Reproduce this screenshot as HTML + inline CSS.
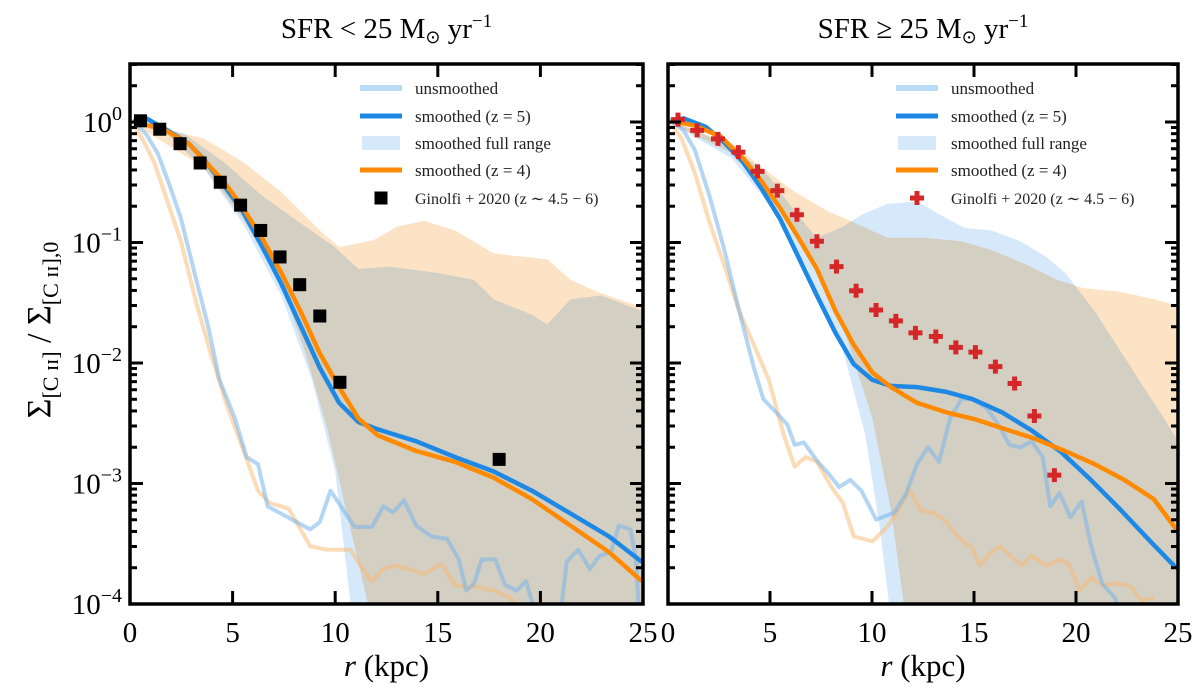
<!DOCTYPE html>
<html><head><meta charset="utf-8"><style>
body{margin:0;background:#fff;}
svg text{font-family:"Liberation Serif",serif;}
</style></head><body>
<svg id="chart" width="1200" height="691" xmlns="http://www.w3.org/2000/svg"></svg>
<script>
// ---- data (r in kpc, values stored as log10 of normalized surface density) ----
const xTicks=[0,5,10,15,20,25];
const yTicks=[0,-1,-2,-3,-4];
const legendLabels=["unsmoothed","smoothed (z = 5)","smoothed full range","smoothed (z = 4)","Ginolfi + 2020 (z ∼ 4.5 − 6)"];

// Left panel
const L_blueR=[0.23,0.79,1.73,2.86,3.61,4.55,5.49,6.43,7.37,8.31,9.25,10.19,11.13,12.07,13.95,15.83,17.71,19.59,21.47,23.35,24.94];
const L_blueV=[0.02,0.03,-0.06,-0.18,-0.31,-0.52,-0.74,-1.03,-1.34,-1.69,-2.04,-2.33,-2.49,-2.55,-2.65,-2.78,-2.90,-3.06,-3.25,-3.44,-3.65];
const L_orR=[0.13,1.73,2.86,4.55,5.49,6.43,7.37,8.31,9.25,10.19,11.13,12.07,13.95,15.83,17.71,19.59,21.47,23.35,24.94];
const L_orV=[0.01,-0.07,-0.18,-0.49,-0.71,-0.96,-1.25,-1.57,-1.92,-2.20,-2.46,-2.60,-2.73,-2.82,-2.95,-3.13,-3.35,-3.57,-3.81];
const L_obsR=[0.51,1.45,2.44,3.42,4.40,5.39,6.37,7.31,8.27,9.25,10.23,17.99];
const L_obsV=[0.01,-0.06,-0.18,-0.34,-0.50,-0.69,-0.90,-1.12,-1.35,-1.61,-2.16,-2.80];
const L_ubR=[0.13,0.79,1.35,1.92,2.48,3.23,3.80,4.36,5.11,5.68,6.24,6.71,7.37,8.12,8.78,9.25,9.77,10.28,10.94,11.79,12.35,12.82,13.35,13.95,14.70,15.45,16.02,16.39,16.77,17.14,17.80,18.27,18.83,19.30,19.96,20.90,21.28,21.84,22.41,22.88,23.44,23.82,24.38,24.66,24.85];
const L_ubV=[0.01,-0.10,-0.26,-0.52,-0.80,-1.31,-1.69,-2.14,-2.46,-2.78,-2.84,-3.19,-3.25,-3.32,-3.38,-3.32,-3.06,-3.19,-3.36,-3.36,-3.19,-3.24,-3.14,-3.35,-3.44,-3.46,-3.63,-3.89,-3.83,-3.63,-3.63,-3.84,-3.89,-3.81,-4.2,-4.2,-3.65,-3.55,-3.71,-3.60,-3.57,-3.35,-3.38,-3.63,-4.2];
const L_uoR=[0.13,0.60,1.17,1.73,2.48,3.23,3.98,4.74,5.49,6.24,6.80,7.74,8.31,8.78,9.62,10.75,11.22,11.79,12.35,12.91,13.57,14.32,15.17,15.83,16.39,16.95,17.71,18.46,18.74,19.21];
const L_uoV=[-0.01,-0.14,-0.33,-0.61,-0.99,-1.50,-1.95,-2.36,-2.71,-3.06,-3.16,-3.21,-3.38,-3.52,-3.55,-3.55,-3.68,-3.81,-3.71,-3.68,-3.71,-3.75,-3.67,-3.84,-3.86,-3.86,-3.89,-3.94,-4.0,-4.1];
const L_bandBlueUpR=[0.13,2.67,4.55,6.43,8.31,10.0,11.13,12.63,14.89,16.77,17.71,19.59,20.34,21.47,22.97,24.98];
const L_bandBlueUpV=[0.01,-0.10,-0.33,-0.61,-0.84,-1.04,-1.22,-1.20,-1.25,-1.31,-1.47,-1.60,-1.68,-1.47,-1.44,-1.57];
const L_bandBlueLoR=[0.13,1.73,3.61,5.49,7.37,8.87,10.0,10.75,11.0,25.0];
const L_bandBlueLoV=[-0.01,-0.09,-0.39,-0.84,-1.44,-2.14,-2.90,-4.0,-4.5,-4.5];
const L_bandOrUpR=[0.13,3.61,5.49,7.37,9.25,10.19,11.88,13.0,14.32,15.83,17.71,20.34,21.47,22.78,24.98];
const L_bandOrUpV=[0.01,-0.14,-0.33,-0.58,-0.90,-1.04,-0.98,-0.87,-0.82,-0.90,-1.09,-1.14,-1.31,-1.41,-1.54];
const L_bandOrLoR=[0.13,3.61,5.49,7.37,8.50,9.62,10.75,11.60,11.9,25.0];
const L_bandOrLoV=[-0.01,-0.38,-0.80,-1.34,-1.89,-2.55,-3.38,-4.0,-4.5,-4.5];

// Right panel
const R_blueR=[0.13,0.76,1.85,2.76,3.67,4.58,5.48,6.39,7.30,8.21,9.11,10.02,10.93,12.20,13.65,14.92,16.38,17.83,19.28,20.73,22.19,23.64,24.91];
const R_blueV=[0.01,0.03,-0.04,-0.17,-0.33,-0.55,-0.80,-1.12,-1.44,-1.75,-2.01,-2.14,-2.19,-2.20,-2.24,-2.30,-2.41,-2.56,-2.74,-2.97,-3.22,-3.48,-3.70];
const R_orR=[0.13,1.31,2.58,3.67,4.58,5.48,6.39,7.30,8.21,9.11,10.02,10.93,12.20,13.65,15.11,16.56,18.01,19.46,20.92,22.37,23.82,24.91];
const R_orV=[0.01,-0.03,-0.12,-0.30,-0.49,-0.71,-0.96,-1.22,-1.57,-1.85,-2.08,-2.20,-2.33,-2.41,-2.47,-2.55,-2.63,-2.73,-2.84,-2.97,-3.13,-3.38];
const R_obsR=[0.49,1.43,2.45,3.45,4.39,5.36,6.32,7.30,8.26,9.22,10.20,11.17,12.13,13.13,14.11,15.07,16.05,16.99,17.96,18.94];
const R_obsV=[0.02,-0.07,-0.14,-0.25,-0.41,-0.57,-0.77,-0.99,-1.20,-1.40,-1.56,-1.65,-1.75,-1.78,-1.87,-1.91,-2.03,-2.17,-2.44,-2.93];
const R_ubR=[0.13,0.76,1.31,2.03,2.76,3.49,4.21,4.67,5.30,5.85,6.21,6.66,7.30,7.93,8.39,8.93,9.48,10.20,11.11,11.66,12.20,12.75,13.29,13.83,14.38,14.92,15.65,16.19,16.74,17.28,17.83,18.37,18.74,19.19,19.73,20.28,20.73,21.28,21.91,22.19];
const R_ubV=[0.01,-0.07,-0.23,-0.61,-1.06,-1.57,-2.04,-2.30,-2.41,-2.51,-2.68,-2.66,-2.81,-2.93,-3.03,-2.97,-3.06,-3.30,-3.24,-3.09,-2.84,-2.70,-2.82,-2.46,-2.30,-2.30,-2.38,-2.51,-2.68,-2.70,-2.65,-2.78,-3.19,-3.08,-3.28,-3.15,-3.51,-3.83,-3.95,-4.11];
const R_uoR=[0.13,0.67,1.31,2.03,2.76,3.49,4.21,4.94,5.66,6.21,6.75,7.30,8.02,8.57,9.11,10.02,10.75,11.29,11.84,12.38,13.11,13.65,14.20,14.92,15.29,15.83,16.29,16.92,17.37,17.83,18.55,19.28,19.64,20.19,20.73,21.28,22.19,22.73,23.18,23.82];
const R_uoV=[-0.01,-0.14,-0.42,-0.83,-1.19,-1.57,-1.85,-2.14,-2.59,-2.86,-2.78,-2.82,-3.03,-3.16,-3.44,-3.48,-3.36,-3.22,-3.05,-3.22,-3.25,-3.32,-3.44,-3.54,-3.68,-3.57,-3.52,-3.62,-3.68,-3.60,-3.68,-3.63,-3.67,-3.89,-3.78,-3.84,-3.83,-3.86,-3.97,-3.95];
const R_bandBlueUpR=[0.13,3.12,4.94,6.21,7.30,8.57,9.48,10.75,12.20,13.65,14.56,15.83,17.28,18.55,19.46,20.92,22.37,23.82,24.91];
const R_bandBlueUpV=[0.01,-0.20,-0.45,-0.74,-0.96,-0.87,-0.77,-0.68,-0.66,-0.80,-0.88,-0.90,-0.99,-1.12,-1.25,-1.57,-1.95,-2.33,-2.62];
const R_bandBlueLoR=[0.13,3.12,4.94,6.75,8.57,9.66,10.39,10.84,11.1,25.0];
const R_bandBlueLoV=[-0.01,-0.30,-0.68,-1.19,-1.89,-2.59,-3.38,-4.0,-4.5,-4.5];
const R_bandOrUpR=[0.13,3.12,4.94,6.21,7.84,8.93,10.75,12.56,14.38,15.83,17.65,19.10,20.37,22.19,23.82,24.91];
const R_bandOrUpV=[0.01,-0.18,-0.42,-0.58,-0.74,-0.82,-0.96,-0.96,-0.99,-1.06,-1.19,-1.31,-1.38,-1.41,-1.47,-1.52];
const R_bandOrLoR=[0.13,3.12,4.94,6.75,8.57,10.02,10.93,11.56,11.8,25.0];
const R_bandOrLoV=[-0.01,-0.26,-0.61,-1.06,-1.69,-2.46,-3.22,-4.0,-4.5,-4.5];

// ---- rendering ----
const NS="http://www.w3.org/2000/svg";
const svg=document.getElementById('chart');
function mk(tag,attrs,parent){const e=document.createElementNS(NS,tag);for(const k in attrs)e.setAttribute(k,attrs[k]);(parent||svg).appendChild(e);return e;}
const Y0=122, DEC=120.5, TOP=64, BOT=604;
const yMin=-4, yMax=(Y0-TOP)/DEC;
const BLUE="#1e88e5", ORANGE="#ff8a00";

function panel(id,left,right,title,data,markerType,showYLabels){
  const sx=r=>left+(right-left)*r/25;
  const sy=v=>BOT-(v-yMin)/(yMax-yMin)*(BOT-TOP);
  const g=mk('g',{});
  
  
  const cp=mk('clipPath',{id:id+'-clip'},g);
  mk('rect',{x:left,y:TOP,width:right-left,height:BOT-TOP},cp);
  const plot=mk('g',{'clip-path':'url(#'+id+'-clip)'},g);
  const pts=(R,V)=>R.map((r,i)=>sx(r).toFixed(1)+','+sy(V[i]).toFixed(1));
  function band(uR,uV,lR,lV,fill,name){
    const p=pts(uR,uV).concat(pts(lR,lV).reverse());
    const e=mk('polygon',{points:p.join(' '),fill:fill,stroke:'none',style:'mix-blend-mode:multiply'},plot);
    
    
  }
  band(data.bOR,data.bOV,data.bOLR,data.bOLV,'#fde3c6','orange-range-band');
  band(data.bBR,data.bBV,data.bBLR,data.bBLV,'#d6e9fb','blue-range-band');
  function line(R,V,color,w,op,name){
    const e=mk('polyline',{points:pts(R,V).join(' '),fill:'none',stroke:color,'stroke-width':w,'stroke-opacity':op,'stroke-linejoin':'round'},plot);
    
    
  }
  line(data.uoR,data.uoV,'#f9b870',4,0.5,'unsmoothed-z4-line');
  line(data.ubR,data.ubV,'#79b4e8',4,0.55,'unsmoothed-z5-line');
  line(data.bR,data.bV,BLUE,4.5,1,'smoothed-z5-line');
  line(data.oR,data.oV,ORANGE,4.5,1,'smoothed-z4-line');
  data.obsR.forEach((r,i)=>{
    const x=sx(r),y=sy(data.obsV[i]);let e;
    if(markerType==='square'){e=mk('rect',{x:x-6.5,y:y-6.5,width:13,height:13,fill:'#000'},plot);}
    else{e=mk('path',{d:`M${x-2.5},${y-7}h5v4.5h4.5v5h-4.5v4.5h-5v-4.5h-4.5v-5h4.5z`,fill:'#d62728'},plot);}
    
    
  });
  const fr=mk('rect',{x:left,y:TOP,width:right-left,height:BOT-TOP,fill:'none',stroke:'#000','stroke-width':3.5},g);
  
  
  xTicks.forEach(t=>{
    const x=sx(t);
    mk('line',{x1:x,x2:x,y1:BOT,y2:BOT-13,stroke:'#000','stroke-width':3},g);
    mk('line',{x1:x,x2:x,y1:TOP,y2:TOP+13,stroke:'#000','stroke-width':3},g);
    const tx=mk('text',{x:x,y:642,'text-anchor':'middle','font-size':29},g);
    tx.textContent=t;
    
    
  });
  for(let d=-4;d<=0;d++){
    for(let m=1;m<=9;m++){
      const v=d+Math.log10(m); if(v>yMax) continue;
      const y=sy(v), L=m===1?13:7;
      mk('line',{x1:left,x2:left+L,y1:y,y2:y,stroke:'#000','stroke-width':3},g);
      mk('line',{x1:right,x2:right-L,y1:y,y2:y,stroke:'#000','stroke-width':3},g);
    }
  }
  if(showYLabels){
    yTicks.forEach(t=>{
      const tx=mk('text',{x:left-8,y:sy(t)+10,'text-anchor':'end','font-size':29},g);
      tx.textContent='10';
      const s=mk('tspan',{dy:-12,'font-size':20},tx);s.textContent=(t===0?'0':'−'+(-t));
      
      
    });
  }
  const tt=mk('text',{x:(left+right)/2,y:38,'text-anchor':'middle','font-size':29},g);
  tt.innerHTML=title;
  
  
  const xl=mk('text',{x:(left+right)/2,y:676,'text-anchor':'middle','font-size':31},g);
  xl.innerHTML='<tspan font-style="italic">r</tspan> (kpc)';
  
  
  const lg=mk('g',{},g);
  
  
  const lx0=left+(markerType==='square'?230:228), tx0=lx0+55;
  const rows=[88,116,143,170,198];
  rows.forEach((y,i)=>{
    if(i===0) mk('line',{x1:lx0,x2:lx0+42,y1:y,y2:y,stroke:'#b9dbf8','stroke-width':6},lg);
    if(i===1) mk('line',{x1:lx0,x2:lx0+42,y1:y,y2:y,stroke:BLUE,'stroke-width':5},lg);
    if(i===2) mk('rect',{x:lx0+2,y:y-7,width:38,height:14,fill:'#d6e9fb'},lg);
    if(i===3) mk('line',{x1:lx0,x2:lx0+42,y1:y,y2:y,stroke:ORANGE,'stroke-width':5},lg);
    if(i===4){
      const cx=lx0+21;
      if(markerType==='square') mk('rect',{x:cx-6.5,y:y-6.5,width:13,height:13,fill:'#000'},lg);
      else mk('path',{d:`M${cx-2.5},${y-7}h5v4.5h4.5v5h-4.5v4.5h-5v-4.5h-4.5v-5h4.5z`,fill:'#d62728'},lg);
    }
    const t=mk('text',{x:tx0,y:y+6,'font-size':i===4?16:17,fill:'#222'},lg);
    t.textContent=legendLabels[i];
    
    
  });
}

panel('left-panel',130,643,'SFR &lt; 25 M<tspan font-size="18" dy="5">⊙</tspan><tspan dy="-5"> yr</tspan><tspan font-size="19" dy="-11">−1</tspan>',
  {bR:L_blueR,bV:L_blueV,oR:L_orR,oV:L_orV,obsR:L_obsR,obsV:L_obsV,ubR:L_ubR,ubV:L_ubV,uoR:L_uoR,uoV:L_uoV,
   bBR:L_bandBlueUpR,bBV:L_bandBlueUpV,bBLR:L_bandBlueLoR,bBLV:L_bandBlueLoV,bOR:L_bandOrUpR,bOV:L_bandOrUpV,bOLR:L_bandOrLoR,bOLV:L_bandOrLoV},'square',true);
panel('right-panel',668,1178,'SFR ≥ 25 M<tspan font-size="18" dy="5">⊙</tspan><tspan dy="-5"> yr</tspan><tspan font-size="19" dy="-11">−1</tspan>',
  {bR:R_blueR,bV:R_blueV,oR:R_orR,oV:R_orV,obsR:R_obsR,obsV:R_obsV,ubR:R_ubR,ubV:R_ubV,uoR:R_uoR,uoV:R_uoV,
   bBR:R_bandBlueUpR,bBV:R_bandBlueUpV,bBLR:R_bandBlueLoR,bBLV:R_bandBlueLoV,bOR:R_bandOrUpR,bOV:R_bandOrUpV,bOLR:R_bandOrLoR,bOLV:R_bandOrLoV},'plus',false);

const yl=mk('text',{x:0,y:0,'text-anchor':'middle','font-size':34,transform:'translate(50,330) rotate(-90)'});
yl.innerHTML='Σ<tspan font-size="22" dy="8">[C ɪɪ]</tspan><tspan dy="-8"> / Σ</tspan><tspan font-size="22" dy="8">[C ɪɪ],0</tspan>';


</script>
</body></html>
